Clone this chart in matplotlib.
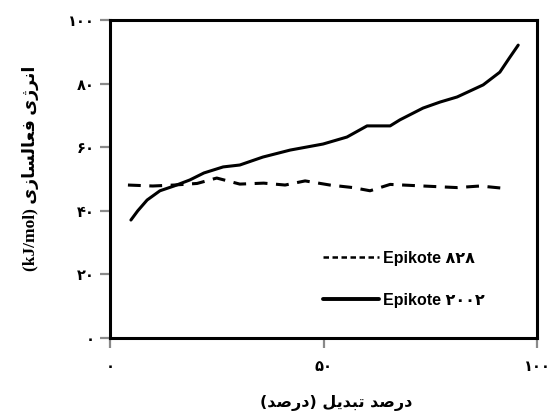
import matplotlib
matplotlib.use("Agg")
import matplotlib.pyplot as plt

# ---------------- data ----------------
x_828 = [4.2, 10, 15, 20.4, 25, 30.4, 36, 41, 45.7, 51.5, 56.9, 60.9, 65.6, 73.3, 81.3, 86.7, 92]
y_828 = [48.1, 47.8, 48.1, 48.6, 50.3, 48.4, 48.7, 48.1, 49.4, 48.1, 47.3, 46.3, 48.3, 47.8, 47.3, 47.8, 47.1]

x_2002 = [4.9, 6.5, 8.7, 11.7, 15, 18.7, 22, 26.5, 30.4, 35.8, 42.2, 49.9, 55.5, 60.2, 65.6,
          67.9, 73.3, 77.3, 81.3, 87.4, 91.3, 93.5, 95.6]
y_2002 = [37.1, 40.0, 43.4, 46.3, 47.8, 49.7, 51.9, 53.8, 54.4, 56.9, 59.1, 61.0, 63.2, 66.7, 66.7,
          68.6, 72.3, 74.2, 75.8, 79.6, 83.6, 88.0, 92.1]

xticks = [0, 50, 100]
yticks = [0, 20, 40, 60, 80, 100]
label_828 = "Epikote ۸۲۸"
label_2002 = "Epikote ۲۰۰۲"
xlabel = "درصد تبدیل (درصد)"
ylabel_fa = "انرژی فعالسازی"
ylabel_unit = "(kJ/mol)"

# ------------- minimal Arabic/Persian shaping -------------
FORMS = {
    '\u0627': ('\uFE8D', '\uFE8E', None, None),
    '\u0628': ('\uFE8F', '\uFE90', '\uFE91', '\uFE92'),
    '\u062A': ('\uFE95', '\uFE96', '\uFE97', '\uFE98'),
    '\u062F': ('\uFEA9', '\uFEAA', None, None),
    '\u0631': ('\uFEAD', '\uFEAE', None, None),
    '\u0632': ('\uFEAF', '\uFEB0', None, None),
    '\u0698': ('\uFB8A', '\uFB8B', None, None),
    '\u0633': ('\uFEB1', '\uFEB2', '\uFEB3', '\uFEB4'),
    '\u0635': ('\uFEB9', '\uFEBA', '\uFEBB', '\uFEBC'),
    '\u0639': ('\uFEC9', '\uFECA', '\uFECB', '\uFECC'),
    '\u0641': ('\uFED1', '\uFED2', '\uFED3', '\uFED4'),
    '\u0644': ('\uFEDD', '\uFEDE', '\uFEDF', '\uFEE0'),
    '\u0646': ('\uFEE5', '\uFEE6', '\uFEE7', '\uFEE8'),
    '\u06CC': ('\uFBFC', '\uFBFD', '\uFBFE', '\uFBFF'),
}


def shape(s):
    out = []
    for i, c in enumerate(s):
        if c not in FORMS:
            out.append(c)
            continue
        iso, fin, ini, med = FORMS[c]
        prev = s[i - 1] if i > 0 else None
        nxt = s[i + 1] if i + 1 < len(s) else None
        jp = prev in FORMS and FORMS[prev][2] is not None
        jn = ini is not None and nxt in FORMS
        if jp and jn:
            out.append(med)
        elif jp:
            out.append(fin)
        elif jn:
            out.append(ini)
        else:
            out.append(iso)
    return ''.join(out)


def visual(s):
    r = shape(s)[::-1]
    return r.translate(str.maketrans({'(': ')', ')': '('}))


def fa_digits(n):
    return str(n).translate(str.maketrans('0123456789', '۰۱۲۳۴۵۶۷۸۹'))


# ---------------- figure ----------------
fig = plt.figure(figsize=(5.51, 4.13), dpi=100)
ax = fig.add_axes([110 / 551, 1 - 338 / 413, 427 / 551, 318 / 413])

l1, = ax.plot(x_828, y_828, color='black', lw=2.2, dashes=(4.2, 2.8))
l2, = ax.plot(x_2002, y_2002, color='black', lw=2.2, solid_capstyle='round')

ax.set_xlim(0, 100)
ax.set_ylim(0, 100)
ax.set_xticks(xticks)
ax.set_yticks(yticks)
tickfont = dict(family=['DejaVu Sans'], weight='bold', size=10.5)
ax.set_xticklabels([fa_digits(v) for v in xticks], **tickfont)
ax.set_yticklabels([fa_digits(v) for v in yticks], **tickfont)
ax.tick_params(axis='both', direction='out', length=7, width=1.6, color='#8a8a8a')
ax.tick_params(axis='y', pad=4)
ax.tick_params(axis='x', pad=8)
for sp in ax.spines.values():
    sp.set_linewidth(2.2)
    sp.set_color('black')

leg = ax.legend([l1, l2], [label_828, label_2002], loc='upper left',
                bbox_to_anchor=(0.465, 0.32), frameon=False,
                handlelength=3.5, handletextpad=0.25, labelspacing=1.7,
                prop=dict(family=['Liberation Sans', 'DejaVu Sans'], weight='bold', size=11.5))
hl = leg.get_lines()
hl[0].set_dashes((2.2, 1.4))
hl[0].set_linewidth(1.8)
hl[1].set_linewidth(2.8)

fig.text(336 / 551, 1 - 403 / 413, visual(xlabel), ha='center', va='center',
         family=['DejaVu Sans'], weight='bold', size=11.5)
fig.text(30 / 551, 1 - 168 / 413, ylabel_unit + ' ' + visual(ylabel_fa), rotation=90,
         ha='center', va='center', family=['Liberation Serif', 'DejaVu Sans'],
         weight='bold', size=12.5)

fig.savefig('out.png', dpi=100)
